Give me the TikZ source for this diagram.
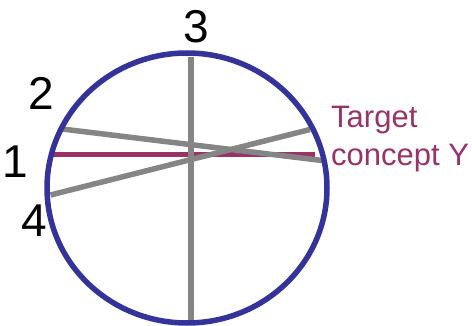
\documentclass[tikz,border=0pt]{standalone}
\usepackage{fontspec}
\setmainfont{Liberation Sans}
\definecolor{ringblue}{HTML}{333399}
\definecolor{target}{HTML}{993366}
\definecolor{lgray}{HTML}{858585}
\begin{document}
\begin{tikzpicture}[x=1pt,y=-1pt,
  chord/.style={draw=lgray,line width=5.5pt},
  tchord/.style={draw=target,line width=5.5pt},
  num/.style={font=\fontsize{46}{50}\selectfont,inner sep=0pt,anchor=base},
  tlabel/.style={font=\fontsize{31}{35}\selectfont,text=target,inner sep=0pt,anchor=base west}]
\useasboundingbox (0,0) rectangle (472,326);
% chords
\coordinate (a1) at (50,154.5);   \coordinate (b1) at (315,154.5);
\coordinate (a2) at (62,129);     \coordinate (b2) at (322,160.5);
\coordinate (a3) at (191,57);     \coordinate (b3) at (191,324);
\coordinate (a4) at (50.5,195);   \coordinate (b4) at (310,129.5);
\draw[tchord] (a1) -- (b1);
\draw[chord] (a2) -- (b2);
\draw[chord] (a3) -- (b3);
\draw[chord] (a4) -- (b4);
% ring
\draw[draw=ringblue,line width=5.5pt] (187,188) ellipse [x radius=140, y radius=135];
% labels
\node[num] (n3) at (196,42.7) {3};
\node[num] (n2) at (41,110) {2};
\node[num] (n1) at (15,178) {1};
\node[num] (n4) at (34,236.7) {4};
\node[tlabel] (t1) at (331,127.7) {Target};
\node[tlabel] (t2) at (331,166) {concept Y};
\end{tikzpicture}
\end{document}
